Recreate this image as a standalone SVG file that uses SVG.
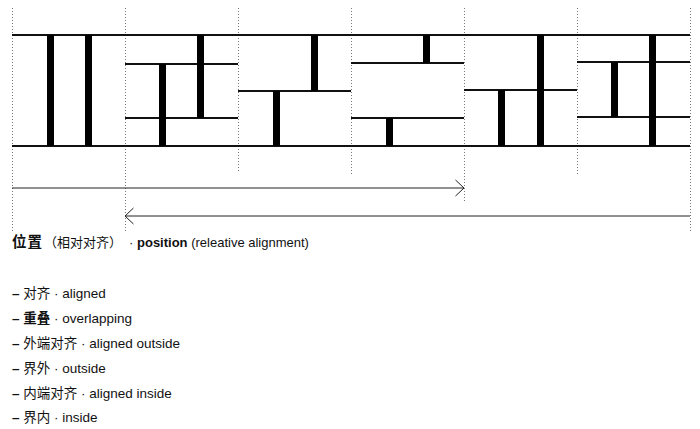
<svg xmlns="http://www.w3.org/2000/svg" width="700" height="429" viewBox="0 0 700 429">
<defs>
<style>
.guide{stroke:#777;stroke-width:1;stroke-dasharray:1 2;fill:none}
.rule{stroke:#111;stroke-width:2;fill:none}
.bar{fill:#000}
.conn{stroke:#222;stroke-width:1;fill:none}
.t{font-family:"Liberation Sans","Noto Sans CJK SC",sans-serif;font-size:13.5px;fill:#111}
.cap{font-size:13px}
.b{font-weight:bold}
</style>
<marker id="chev" markerUnits="userSpaceOnUse" markerWidth="12" markerHeight="20" viewBox="0 0 12 20" refX="10" refY="10" orient="auto-start-reverse">
<path d="M1.5,2 L10,10 L1.5,18" stroke="#222" stroke-width="1" fill="none"/>
</marker>
</defs>
<rect width="700" height="429" fill="#fff"/>
<g id="guides">
<line class="guide" x1="12.5" y1="8" x2="12.5" y2="232"/>
<line class="guide" x1="125.5" y1="8" x2="125.5" y2="232"/>
<line class="guide" x1="238.5" y1="8" x2="238.5" y2="173"/>
<line class="guide" x1="351.5" y1="8" x2="351.5" y2="175"/>
<line class="guide" x1="464.5" y1="8" x2="464.5" y2="203"/>
<line class="guide" x1="577.5" y1="8" x2="577.5" y2="175"/>
<line class="guide" x1="690.5" y1="8" x2="690.5" y2="232"/>
</g>
<g id="frame">
<line class="rule" x1="12" y1="35" x2="690" y2="35"/>
<line class="rule" x1="12" y1="146" x2="690" y2="146"/>
</g>
<g id="aligned">
<rect class="bar" x="47" y="35" width="7" height="111"/>
<rect class="bar" x="85" y="35" width="7" height="111"/>
</g>
<g id="overlapping">
<line class="rule" x1="125" y1="64" x2="238" y2="64"/>
<line class="rule" x1="125" y1="118" x2="238" y2="118"/>
<rect class="bar" x="159" y="64" width="7" height="82"/>
<rect class="bar" x="197" y="35" width="7" height="83"/>
</g>
<g id="aligned-outside">
<line class="rule" x1="238" y1="91" x2="351" y2="91"/>
<rect class="bar" x="311" y="35" width="7" height="56"/>
<rect class="bar" x="273" y="91" width="7" height="55"/>
</g>
<g id="outside">
<line class="rule" x1="351" y1="63" x2="464" y2="63"/>
<line class="rule" x1="351" y1="118" x2="464" y2="118"/>
<rect class="bar" x="423" y="35" width="7" height="28"/>
<rect class="bar" x="386" y="118" width="7" height="28"/>
</g>
<g id="aligned-inside">
<line class="rule" x1="464" y1="90" x2="577" y2="90"/>
<rect class="bar" x="537" y="35" width="7" height="111"/>
<rect class="bar" x="498" y="90" width="7" height="56"/>
</g>
<g id="inside">
<line class="rule" x1="577" y1="62" x2="690" y2="62"/>
<line class="rule" x1="577" y1="117" x2="690" y2="117"/>
<rect class="bar" x="611" y="62" width="7" height="55"/>
<rect class="bar" x="649" y="35" width="7" height="111"/>
</g>
<g id="connectors">
<line class="conn" x1="12" y1="188" x2="464" y2="188" marker-end="url(#chev)"/>
<line class="conn" x1="690" y1="216" x2="125" y2="216" marker-end="url(#chev)"/>
</g>
<g id="caption">
<text class="t cap" x="12" y="247"><tspan class="b" style="font-size:14.5px;letter-spacing:1px">位置</tspan><tspan x="44">（相对对齐）</tspan><tspan x="129">·</tspan><tspan class="b" x="137">position</tspan> (releative alignment)</text>
</g>
<g id="legend">
<text class="t" x="12" y="298"><tspan class="b">–</tspan> 对齐 · aligned</text>
<text class="t" x="12" y="323"><tspan class="b">– 重叠</tspan> · overlapping</text>
<text class="t" x="12" y="348"><tspan class="b">–</tspan> 外端对齐 · aligned outside</text>
<text class="t" x="12" y="373"><tspan class="b">–</tspan> 界外 · outside</text>
<text class="t" x="12" y="398"><tspan class="b">–</tspan> 内端对齐 · aligned inside</text>
<text class="t" x="12" y="422"><tspan class="b">–</tspan> 界内 · inside</text>
</g>
</svg>
